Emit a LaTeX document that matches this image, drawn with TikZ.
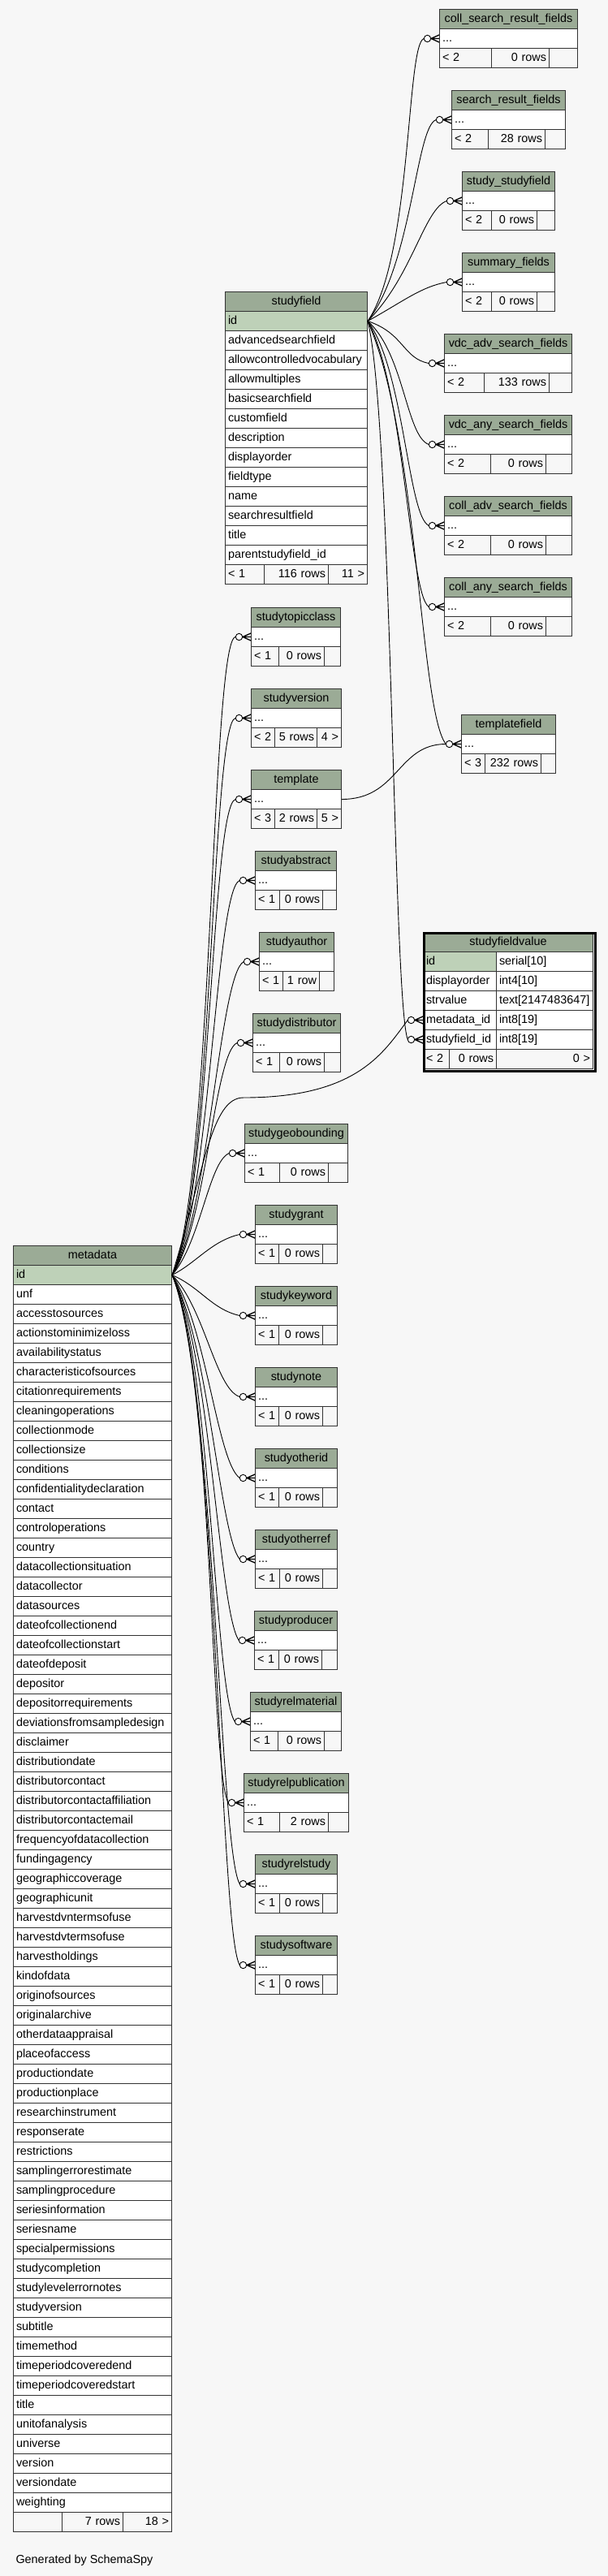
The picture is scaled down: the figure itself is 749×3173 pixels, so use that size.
\documentclass[tikz,border=0pt]{standalone}
\usepackage{fontspec}
\setmainfont{Liberation Sans}
\usepackage{xcolor}
\definecolor{schemabg}{HTML}{F7F7F7}
\definecolor{headfill}{HTML}{9BAB96}
\definecolor{keyfill}{HTML}{BED1B8}
\definecolor{gridline}{HTML}{333333}

\begin{document}
\begin{tikzpicture}[x=1pt, y=-1pt,
  tcell/.style={draw=gridline, line width=1pt, rectangle, anchor=north west, inner xsep=3.5pt, inner ysep=0pt, minimum height=24, text height=10.5pt, text depth=3pt, font=\fontsize{14.4}{17}\selectfont},
  cw/.style={text width=#1-7},
  hd/.style={tcell, fill=headfill, align=center},
  rw/.style={tcell, fill=white, align=left},
  pk/.style={tcell, fill=keyfill, align=left},
  ft/.style={tcell, fill=schemabg},
  fk/.style={draw=black, line width=0.9pt},
  crowfoot/.pic={
    \draw[fk, fill=white] (-14.5,0) circle (4.2pt);
    \draw[fk, line width=1.3pt] (-10.3,0) -- (0,0) (-10,0) -- (0,-4.5) (-10,0) -- (0,4.5);
  }]
\fill[schemabg] (0,0) rectangle (749,3173);
\useasboundingbox (0,0) rectangle (749,3173);

% small tables with one "..." row
\foreach \n/\x/\y/\w/\a/\b/\t/\l/\m/\r in {
  csrf/541/11/170/605/676/coll\_search\_result\_fields/{< 2}/0 rows/{},
  srf/556/111/140/601/671/search\_result\_fields/{< 2}/28 rows/{},
  ssf/569/211/114/605/661/study\_studyfield/{< 2}/0 rows/{},
  smf/569/311/114/605/661/summary\_fields/{< 2}/0 rows/{},
  vasf/547/411/157/596/676/vdc\_adv\_search\_fields/{< 2}/133 rows/{},
  vnsf/547/511/157/604/672/vdc\_any\_search\_fields/{< 2}/0 rows/{},
  casf/547/611/157/604/672/coll\_adv\_search\_fields/{< 2}/0 rows/{},
  cnsf/547/711/157/604/672/coll\_any\_search\_fields/{< 2}/0 rows/{},
  tf/568/880/116/597/666/templatefield/{< 3}/232 rows/{},
  stc/309/748/110/343/399/studytopicclass/{< 1}/0 rows/{},
  sv/309/848/111/338/390/studyversion/{< 2}/5 rows/{4 >},
  tpl/309/948/111/338/390/template/{< 3}/2 rows/{5 >},
  sab/314/1048/100/344/397/studyabstract/{< 1}/0 rows/{},
  sau/319/1148/92/348/393/studyauthor/{< 1}/1 row/{},
  sdi/311/1248/108/344/399/studydistributor/{< 1}/0 rows/{},
  sgb/301/1384/127/344/404/studygeobounding/{< 1}/0 rows/{},
  sgr/314/1484/101/343/397/studygrant/{< 1}/0 rows/{},
  skw/314/1584/101/343/397/studykeyword/{< 1}/0 rows/{},
  sno/314/1684/101/343/397/studynote/{< 1}/0 rows/{},
  soi/314/1784/101/343/397/studyotherid/{< 1}/0 rows/{},
  sor/314/1884/101/344/397/studyotherref/{< 1}/0 rows/{},
  spr/313/1984/102/343/396/studyproducer/{< 1}/0 rows/{},
  srm/308/2084/112/342/399/studyrelmaterial/{< 1}/0 rows/{},
  srp/300/2184/129/344/404/studyrelpublication/{< 1}/2 rows/{},
  srs/314/2284/101/344/397/studyrelstudy/{< 1}/0 rows/{},
  ssw/314/2384/101/344/397/studysoftware/{< 1}/0 rows/{}}
{
  \node[hd, cw=\w] (\n-h) at (\x,\y) {\t};
  \node[rw, cw=\w] (\n-r) at (\x,\y+24) {...};
  \node[ft, cw=\a-\x, align=left] (\n-fl) at (\x,\y+48) {\l};
  \node[ft, cw=\b-\a, align=right] (\n-fm) at (\a,\y+48) {\m};
  \node[ft, cw=\x+\w-\b, align=right] (\n-fr) at (\b,\y+48) {\r};
  \coordinate (\n-in) at ([xshift=-18.7pt]\n-r.west);
  \pic at (\n-r.west) {crowfoot};
}

% studyfield
\node[hd, cw=175] (sf-h) at (277,359) {studyfield};
\node[pk, cw=175] (sf-id) at (277,383) {id};
\foreach \c [count=\i from 2] in {advancedsearchfield, allowcontrolledvocabulary, allowmultiples,
  basicsearchfield, customfield, description, displayorder, fieldtype, name, searchresultfield,
  title, parentstudyfield\_id}
  \node[rw, cw=175] (sf-\i) at (277,359+24*\i) {\c};
\node[ft, cw=48, align=left] (sf-fl) at (277,695) {< 1};
\node[ft, cw=79, align=right] (sf-fm) at (325,695) {116 rows};
\node[ft, cw=48, align=right] (sf-fr) at (404,695) {11 >};

% studyfieldvalue
\node[hd, cw=209] (sfv-h) at (521,1148) {studyfieldvalue};
\node[pk, cw=90] (sfv-id) at (521,1172) {id};
\node[rw, cw=119] (sfv-idt) at (611,1172) {serial[10]};
\node[rw, cw=90] (sfv-do) at (521,1196) {displayorder};
\node[rw, cw=119] (sfv-dot) at (611,1196) {int4[10]};
\node[rw, cw=90] (sfv-sv) at (521,1220) {strvalue};
\node[rw, cw=119] (sfv-svt) at (611,1220) {text[2147483647]};
\node[rw, cw=90] (sfv-mid) at (521,1244) {metadata\_id};
\node[rw, cw=119] (sfv-midt) at (611,1244) {int8[19]};
\node[rw, cw=90] (sfv-sid) at (521,1268) {studyfield\_id};
\node[rw, cw=119] (sfv-sidt) at (611,1268) {int8[19]};
\node[ft, cw=32, align=left] (sfv-fl) at (521,1292) {< 2};
\node[ft, cw=58, align=right] (sfv-fm) at (553,1292) {0 rows};
\node[ft, cw=119, align=right] (sfv-fr) at (611,1292) {0 >};
\node[draw=black, line width=3pt, rectangle, anchor=north west, minimum width=211, minimum height=170, inner sep=0pt] (sfv) at (520.5,1147.5) {};
\coordinate (sfv-min) at ([xshift=-18.7pt]sfv-mid.west);
\coordinate (sfv-sin) at ([xshift=-18.7pt]sfv-sid.west);
\pic at (sfv-mid.west) {crowfoot};
\pic at (sfv-sid.west) {crowfoot};

% metadata
\node[hd, cw=195] (meta-h) at (16,1534) {metadata};
\node[pk, cw=195] (meta-id) at (16,1558) {id};
\foreach \c [count=\i from 2] in {unf, accesstosources, actionstominimizeloss, availabilitystatus,
  characteristicofsources, citationrequirements, cleaningoperations, collectionmode, collectionsize,
  conditions, confidentialitydeclaration, contact, controloperations, country, datacollectionsituation,
  datacollector, datasources, dateofcollectionend, dateofcollectionstart, dateofdeposit, depositor,
  depositorrequirements, deviationsfromsampledesign, disclaimer, distributiondate, distributorcontact,
  distributorcontactaffiliation, distributorcontactemail, frequencyofdatacollection, fundingagency,
  geographiccoverage, geographicunit, harvestdvntermsofuse, harvestdvtermsofuse, harvestholdings,
  kindofdata, originofsources, originalarchive, otherdataappraisal, placeofaccess, productiondate,
  productionplace, researchinstrument, responserate, restrictions, samplingerrorestimate,
  samplingprocedure, seriesinformation, seriesname, specialpermissions, studycompletion,
  studylevelerrornotes, studyversion, subtitle, timemethod, timeperiodcoveredend,
  timeperiodcoveredstart, title, unitofanalysis, universe, version, versiondate, weighting}
  \node[rw, cw=195] (meta-\i) at (16,1534+24*\i) {\c};
\node[ft, cw=60, align=left] (meta-fl) at (16,3094) {};
\node[ft, cw=75, align=right] (meta-fm) at (76,3094) {7 rows};
\node[ft, cw=60, align=right] (meta-fr) at (151,3094) {18 >};

\node[anchor=base west, font=\fontsize{14.4}{17}\selectfont] (credit) at (16,3157) {Generated by SchemaSpy};

% studyfield references
\draw[fk] (sf-id.east) .. controls +(55,-80) and +(-22,6) .. (csrf-in);
\draw[fk] (sf-id.east) .. controls +(55,-70) and +(-25,8) .. (srf-in);
\draw[fk] (sf-id.east) .. controls +(55,-55) and +(-28,10) .. (ssf-in);
\draw[fk] (sf-id.east) .. controls +(45,-25) and +(-32,6) .. (smf-in);
\draw[fk] (sf-id.east) .. controls +(45,15) and +(-32,-6) .. (vasf-in);
\draw[fk] (sf-id.east) .. controls +(45,40) and +(-28,-10) .. (vnsf-in);
\draw[fk] (sf-id.east) .. controls +(45,60) and +(-26,-12) .. (casf-in);
\draw[fk] (sf-id.east) .. controls +(45,80) and +(-24,-15) .. (cnsf-in);
\draw[fk] (sf-id.east) .. controls +(62,140) and +(-32,-40) .. (tf-in);
\draw[fk] (sf-id.east) .. controls +(30,120) and +(-18,-45) .. (sfv-sin);
\draw[fk] (tpl-r.east) .. controls +(70,0) and +(-60,0) .. (tf-in);

% metadata references
\coordinate (sfvbend) at (300,1352);
\draw[fk] (meta-id.east) .. controls +(50,-110) and +(-30,0) .. (stc-in);
\draw[fk] (meta-id.east) .. controls +(50,-100) and +(-30,2) .. (sv-in);
\draw[fk] (meta-id.east) .. controls +(48,-90) and +(-30,5) .. (tpl-in);
\draw[fk] (meta-id.east) .. controls +(47,-80) and +(-30,10) .. (sab-in);
\draw[fk] (meta-id.east) .. controls +(45,-70) and +(-30,15) .. (sau-in);
\draw[fk] (meta-id.east) .. controls +(42,-60) and +(-28,10) .. (sdi-in);
\draw[fk] (meta-id.east) .. controls +(40,-130) and +(-40,0) .. (sfvbend)
  .. controls +(140,0) and +(-30,40) .. (sfv-min);
\draw[fk] (meta-id.east) .. controls +(35,-40) and +(-25,10) .. (sgb-in);
\draw[fk] (meta-id.east) .. controls +(30,-15) and +(-35,8) .. (sgr-in);
\draw[fk] (meta-id.east) .. controls +(35,15) and +(-35,-8) .. (skw-in);
\draw[fk] (meta-id.east) .. controls +(40,40) and +(-30,-10) .. (sno-in);
\draw[fk] (meta-id.east) .. controls +(42,60) and +(-28,-20) .. (soi-in);
\draw[fk] (meta-id.east) .. controls +(45,80) and +(-25,-30) .. (sor-in);
\draw[fk] (meta-id.east) .. controls +(47,90) and +(-25,-35) .. (spr-in);
\draw[fk] (meta-id.east) .. controls +(48,100) and +(-25,-35) .. (srm-in);
\draw[fk] (meta-id.east) .. controls +(50,110) and +(-22,-35) .. (srp-in);
\draw[fk] (meta-id.east) .. controls +(52,120) and +(-25,-40) .. (srs-in);
\draw[fk] (meta-id.east) .. controls +(55,130) and +(-25,-40) .. (ssw-in);
\end{tikzpicture}
\end{document}
